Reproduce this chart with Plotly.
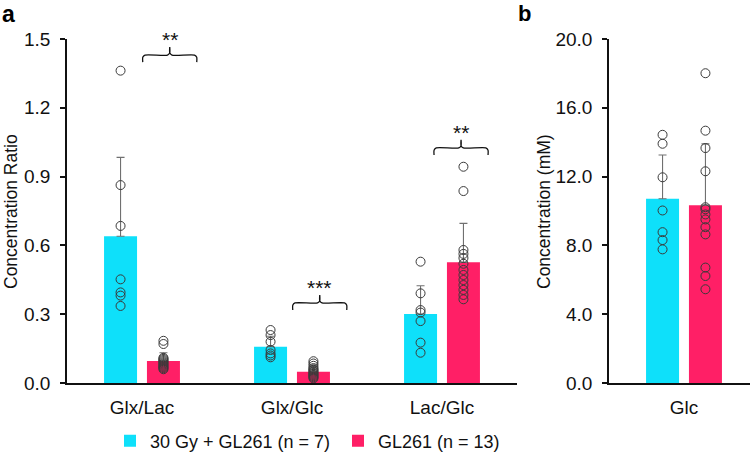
import plotly.graph_objects as go

# ---------------- data ----------------
categories = ["Glx/Lac", "Glx/Glc", "Lac/Glc"]
series_names = ["30 Gy + GL261 (n = 7)", "GL261 (n = 13)"]
colors = ["#0ee0fa", "#ff1f66"]

# panel a: means and SD (upper error bar)
irr_mean = [0.64, 0.158, 0.301]
irr_sd = [0.344, 0.046, 0.123]
ctl_mean = [0.096, 0.049, 0.526]
ctl_sd = [0.036, 0.024, 0.170]

# individual points, panel a
irr_points = [
    [1.362, 0.863, 0.685, 0.452, 0.395, 0.381, 0.336],
    [0.231, 0.209, 0.180, 0.144, 0.129, 0.120, 0.112],
    [0.529, 0.391, 0.318, 0.307, 0.270, 0.176, 0.132],
]
ctl_points = [
    [0.184, 0.170, 0.110, 0.105, 0.100, 0.095, 0.090, 0.085, 0.080, 0.075, 0.070, 0.065, 0.060],
    [0.095, 0.085, 0.075, 0.065, 0.060, 0.055, 0.050, 0.045, 0.040, 0.035, 0.030, 0.025, 0.020],
    [0.943, 0.837, 0.580, 0.563, 0.545, 0.520, 0.493, 0.471, 0.449, 0.427, 0.406, 0.384, 0.365],
]

# panel b: Glc concentration (mM)
glc_category = ["Glc"]
glc_irr_mean = [10.71]
glc_irr_sd = [2.55]
glc_ctl_mean = [10.34]
glc_ctl_sd = [3.56]
glc_irr_points = [14.43, 13.91, 11.96, 10.03, 8.77, 8.31, 7.77]
glc_ctl_points = [18.01, 14.67, 13.66, 12.31, 10.22, 10.10, 9.80, 9.51, 9.06, 8.64, 6.71, 6.22, 5.45]

# significance brackets (panel a): category index, x start/end offset, bracket level, label
sig_cat = [0, 1, 2]
sig_x0 = [0.005, 0.005, -0.053]
sig_x1 = [0.365, 0.365, 0.307]
sig_level = [1.43, 0.349, 1.025]
sig_label = ["**", "***", "**"]

# ---------------- figure ----------------
W, H = 751, 453
BAR_W = 0.22
OFF_L = -0.253
OFF_R = 0.033
CX_L = OFF_L + BAR_W / 2
CX_R = OFF_R + BAR_W / 2

fig = go.Figure()
xa = list(range(len(categories)))

err_style = dict(type="data", symmetric=False, color="#707070", thickness=1.1, width=4)

fig.add_trace(go.Bar(x=xa, y=irr_mean, width=BAR_W, offset=OFF_L, name=series_names[0],
                     marker=dict(color=colors[0], line=dict(width=0)),
                     error_y=dict(array=irr_sd, arrayminus=[0] * 3, **err_style),
                     xaxis="x", yaxis="y", legendgroup="a"))
fig.add_trace(go.Bar(x=xa, y=ctl_mean, width=BAR_W, offset=OFF_R, name=series_names[1],
                     marker=dict(color=colors[1], line=dict(width=0)),
                     error_y=dict(array=ctl_sd, arrayminus=[0] * 3, **err_style),
                     xaxis="x", yaxis="y", legendgroup="b"))
fig.add_trace(go.Bar(x=[0], y=glc_irr_mean, width=BAR_W, offset=OFF_L, name=series_names[0],
                     marker=dict(color=colors[0], line=dict(width=0)),
                     error_y=dict(array=glc_irr_sd, arrayminus=[0], **err_style),
                     xaxis="x2", yaxis="y2", showlegend=False, legendgroup="a"))
fig.add_trace(go.Bar(x=[0], y=glc_ctl_mean, width=BAR_W, offset=OFF_R, name=series_names[1],
                     marker=dict(color=colors[1], line=dict(width=0)),
                     error_y=dict(array=glc_ctl_sd, arrayminus=[0], **err_style),
                     xaxis="x2", yaxis="y2", showlegend=False, legendgroup="b"))

pt_marker = dict(symbol="circle-open", size=9, color="#3a3a3a", line=dict(width=1, color="#3a3a3a"))
for i in range(len(categories)):
    fig.add_trace(go.Scatter(x=[i + CX_L] * len(irr_points[i]), y=irr_points[i], mode="markers",
                             marker=pt_marker, showlegend=False, xaxis="x", yaxis="y"))
    fig.add_trace(go.Scatter(x=[i + CX_R] * len(ctl_points[i]), y=ctl_points[i], mode="markers",
                             marker=pt_marker, showlegend=False, xaxis="x", yaxis="y"))
fig.add_trace(go.Scatter(x=[CX_L] * len(glc_irr_points), y=glc_irr_points, mode="markers",
                         marker=pt_marker, showlegend=False, xaxis="x2", yaxis="y2"))
fig.add_trace(go.Scatter(x=[CX_R] * len(glc_ctl_points), y=glc_ctl_points, mode="markers",
                         marker=pt_marker, showlegend=False, xaxis="x2", yaxis="y2"))

# brackets (curly-brace style)
for c, x0, x1, lv, lab in zip(sig_cat, sig_x0, sig_x1, sig_level, sig_label):
    a0, a1 = c + x0, c + x1
    m = (a0 + a1) / 2
    drop = 0.031
    peak = 0.035
    bx = [a0, a0, a0 + 0.015, m - 0.015, m, m, m, m + 0.015, a1 - 0.015, a1, a1]
    by = [lv - drop, lv - 0.01, lv, lv, lv + 0.01, lv + peak, lv + 0.01, lv, lv, lv - 0.01, lv - drop]
    fig.add_trace(go.Scatter(x=bx, y=by, mode="lines", line=dict(color="#111", width=1.3, shape="spline", smoothing=0.6),
                             showlegend=False, hoverinfo="skip", xaxis="x", yaxis="y"))
    fig.add_annotation(x=m, y=lv + peak, xref="x", yref="y", text=lab, showarrow=False,
                       yanchor="bottom", yshift=-6, font=dict(size=21, color="#111"))

FONT = "Liberation Sans, Arial, sans-serif"
ydom = [1 - 383 / H, 1 - 39 / H]
axis_common = dict(showline=True, linecolor="#111", linewidth=1.5, showgrid=False, zeroline=False,
                   tickfont=dict(size=19, color="#111", family=FONT))

fig.update_layout(
    width=W, height=H,
    margin=dict(l=0, r=0, t=0, b=0, autoexpand=False),
    paper_bgcolor="white", plot_bgcolor="white",
    font=dict(family=FONT, color="#111"),
    barmode="overlay",
    xaxis=dict(domain=[67 / W, 517 / W], range=[-0.5, 2.5], tickvals=xa, ticktext=categories,
               ticks="", ticklabelstandoff=6, anchor="y", automargin=False, **axis_common),
    yaxis=dict(domain=ydom, range=[0, 1.5], dtick=0.3, tick0=0, tickformat=".1f",
               ticks="outside", ticklen=5, tickcolor="#111", tickwidth=1.5, ticklabelstandoff=6,
               anchor="x", automargin=False, **axis_common),
    xaxis2=dict(domain=[609 / W, 750 / W], range=[-0.5, 0.44], tickvals=[0], ticktext=glc_category,
                ticks="", ticklabelstandoff=6, anchor="y2", automargin=False, **axis_common),
    yaxis2=dict(domain=ydom, range=[0, 20], dtick=4, tick0=0, tickformat=".1f",
                ticks="outside", ticklen=5, tickcolor="#111", tickwidth=1.5, ticklabelstandoff=6,
                anchor="x2", automargin=False, **axis_common),
    legend=dict(orientation="h", x=110 / W, xanchor="left", y=1 - 441 / H, yanchor="middle",
                font=dict(size=18, color="#111", family=FONT), entrywidth=183, entrywidthmode="pixels",
                bgcolor="rgba(0,0,0,0)"),
    showlegend=True,
)

fig.add_annotation(x=11 / W, y=1 - 212 / H, xref="paper", yref="paper", text="Concentration Ratio",
                   textangle=-90, showarrow=False, xanchor="center", yanchor="middle",
                   font=dict(size=17.5, color="#111", family=FONT))
fig.add_annotation(x=544 / W, y=1 - 212 / H, xref="paper", yref="paper", text="Concentration (mM)",
                   textangle=-90, showarrow=False, xanchor="center", yanchor="middle",
                   font=dict(size=17.5, color="#111", family=FONT))
fig.add_annotation(x=0, y=1, xref="paper", yref="paper", text="<b>a</b>", xanchor="left", yanchor="top",
                   showarrow=False, font=dict(size=23, color="#000", family=FONT), yshift=1)
fig.add_annotation(x=516 / W, y=1, xref="paper", yref="paper", text="<b>b</b>", xanchor="left", yanchor="top",
                   showarrow=False, font=dict(size=22, color="#000", family=FONT), yshift=1)

fig.write_html("out.html")
